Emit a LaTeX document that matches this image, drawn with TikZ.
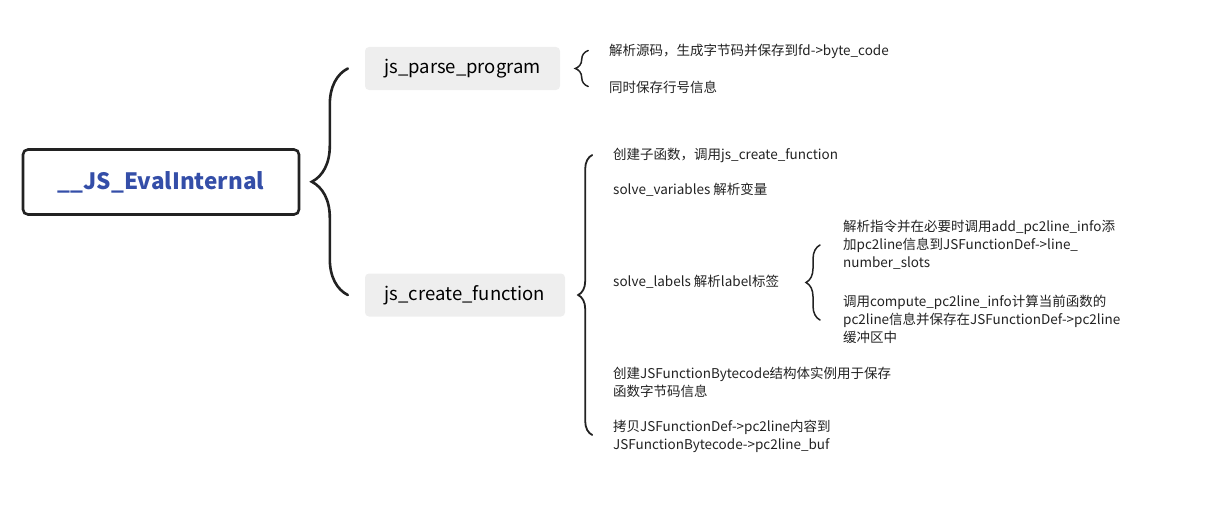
\documentclass[tikz,border=0pt]{standalone}
\usepackage{fontspec}
\setmainfont{Noto Sans CJK SC}
\usepackage{tikz}
\usepackage{xcolor}
\usetikzlibrary{calc,positioning,decorations.pathreplacing}
\definecolor{rootblue}{RGB}{52,78,168}
\definecolor{topicgray}{RGB}{238,238,238}
\definecolor{inkdark}{RGB}{34,34,34}

\begin{document}
\begin{tikzpicture}[
    x=1pt,y=-1pt,
    root/.style={
      rectangle,rounded corners=5pt,draw=inkdark,fill=white,line width=2.6pt,
      minimum width=276pt,minimum height=65pt,align=center,
      text=rootblue,font=\fontsize{22.5}{26}\selectfont\bfseries
    },
    topic/.style={
      rectangle,rounded corners=4pt,fill=topicgray,
      minimum height=43pt,inner xsep=18pt,align=center,
      font=\fontsize{18.5}{22}\selectfont
    },
    leaf/.style={
      anchor=west,inner sep=0pt,align=left,text=inkdark,
      font=\fontsize{13.5}{18}\selectfont
    },
    brc/.style={
      draw=inkdark,line cap=round,decorate,
      decoration={brace,amplitude=#1}
    }
  ]
    \useasboundingbox (0,0) rectangle (1206,527);

    \node[root] (eval) at (161,182) {\_\_JS\_EvalInternal};
    \node[topic,minimum width=195pt] (parse) at (462.5,68.5) {js\_parse\_program};
    \node[topic,minimum width=200pt] (create) at (465,295) {js\_create\_function};

    % main brace
    \draw[brc=36pt,line width=2.6pt] ($(create.west)+(-17,0)$) -- ($(parse.west)+(-17,0)$);

    % js_parse_program
    \node[leaf] (src) at (609,51) {解析源码，生成字节码并保存到fd->byte\_code};
    \node[leaf] (lineno) at (609,87) {同时保存行号信息};
    \draw[brc=13pt,line width=1.5pt] ($(parse.east)+(28,18)$) -- ($(parse.east)+(28,-18)$);

    % js_create_function
    \node[leaf] (child) at (613,155) {创建子函数，调用js\_create\_function};
    \node[leaf] (vars) at (613,190) {solve\_variables 解析变量};
    \node[leaf] (labels) at (613,282) {solve\_labels 解析label标签};
    \node[leaf] (bytecode) at (613,382) {创建JSFunctionBytecode结构体实例用于保存\\函数字节码信息};
    \node[leaf] (copy) at (613,436) {拷贝JSFunctionDef->pc2line内容到\\JSFunctionBytecode->pc2line\_buf};
    \draw[brc=14pt,line width=1.8pt] ($(create.east)+(27,140)$) -- ($(create.east)+(27,-140)$);

    % solve_labels
    \node[leaf] (addinfo) at (843,245) {解析指令并在必要时调用add\_pc2line\_info添\\加pc2line信息到JSFunctionDef->line\_\\number\_slots};
    \node[leaf] (compute) at (843,319) {调用compute\_pc2line\_info计算当前函数的\\pc2line信息并保存在JSFunctionDef->pc2line\\缓冲区中};
    \draw[brc=14pt,line width=1.5pt] ($(addinfo.west |- labels.center)+(-23,38)$) -- ($(addinfo.west |- labels.center)+(-23,-37)$);
  \end{tikzpicture}
\end{document}
